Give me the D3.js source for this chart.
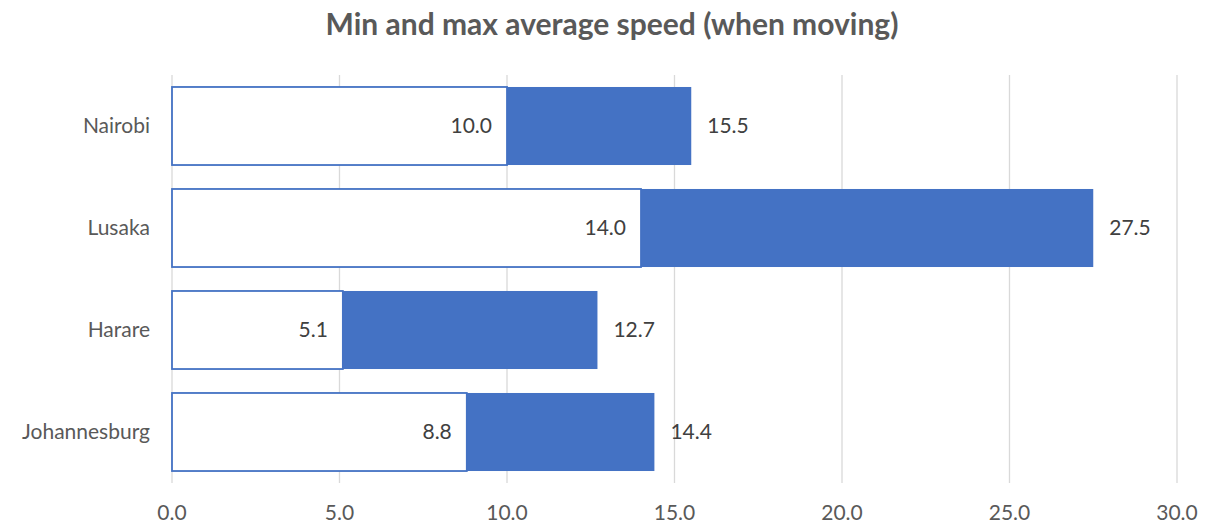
<!DOCTYPE html>
<html>
<head>
<meta charset="utf-8">
<script src="https://cdn.jsdelivr.net/npm/d3@7"></script>
<style>
  html, body { margin: 0; padding: 0; background: #fff; }
  svg { display: block; font-family: Lato, "Open Sans", "Liberation Sans", sans-serif; }
</style>
</head>
<body>
<svg id="chart" width="1206" height="526"></svg>
<script>
const categories = ["Nairobi", "Lusaka", "Harare", "Johannesburg"];
const minSpeed = [10.0, 14.0, 5.1, 8.8];
const maxSpeed = [15.5, 27.5, 12.7, 14.4];
const xTicks = [0, 5, 10, 15, 20, 25, 30];
const title = "Min and max average speed (when moving)";

const svg = d3.select("#chart");
const plot = { left: 172, right: 1177, top: 75, bottom: 483 };
const blue = "#4472C4";
const textCol = "#595959";
const fs = 21;

const x = d3.scaleLinear().domain([0, 30]).range([plot.left, plot.right]);
const y = d3.scaleBand().domain(categories).range([plot.top, plot.bottom]).paddingInner(0.235).paddingOuter(0.1175);

const data = categories.map((c, i) => ({ c, min: minSpeed[i], max: maxSpeed[i] }));

// gridlines
svg.append("g").selectAll("line").data(xTicks).join("line")
  .attr("x1", d => x(d)).attr("x2", d => x(d))
  .attr("y1", plot.top).attr("y2", plot.bottom)
  .attr("stroke", "#d9d9d9").attr("stroke-width", 1.3);

// x tick labels
svg.append("g").selectAll("text").data(xTicks).join("text")
  .attr("x", d => x(d)).attr("y", 520)
  .attr("text-anchor", "middle")
  .attr("font-size", fs).attr("fill", textCol)
  .text(d => d3.format(".1f")(d));

// category labels
svg.append("g").selectAll("text").data(categories).join("text")
  .attr("x", 150).attr("y", d => y(d) + y.bandwidth() / 2 + 7)
  .attr("text-anchor", "end")
  .attr("font-size", fs).attr("fill", textCol)
  .text(d => d);

// max bars (blue)
svg.append("g").selectAll("rect").data(data).join("rect")
  .attr("x", d => x(d.min)).attr("y", d => y(d.c))
  .attr("width", d => x(d.max) - x(d.min)).attr("height", y.bandwidth())
  .attr("fill", blue);

// min bars (white with blue outline)
svg.append("g").selectAll("rect").data(data).join("rect")
  .attr("x", x(0)).attr("y", d => y(d.c))
  .attr("width", d => x(d.min) - x(0)).attr("height", y.bandwidth())
  .attr("fill", "#ffffff").attr("stroke", blue).attr("stroke-width", 1.8);

// min labels
svg.append("g").selectAll("text").data(data).join("text")
  .attr("x", d => x(d.min) - 15).attr("y", d => y(d.c) + y.bandwidth() / 2 + 7)
  .attr("text-anchor", "end")
  .attr("font-size", fs).attr("fill", "#404040")
  .text(d => d3.format(".1f")(d.min));

// max labels
svg.append("g").selectAll("text").data(data).join("text")
  .attr("x", d => x(d.max) + 16).attr("y", d => y(d.c) + y.bandwidth() / 2 + 7)
  .attr("text-anchor", "start")
  .attr("font-size", fs).attr("fill", "#404040")
  .text(d => d3.format(".1f")(d.max));

// title
svg.append("text")
  .attr("x", 612).attr("y", 35)
  .attr("text-anchor", "middle")
  .attr("font-size", 30).attr("font-weight", "bold").attr("fill", textCol)
  .text(title);
</script>
</body>
</html>
